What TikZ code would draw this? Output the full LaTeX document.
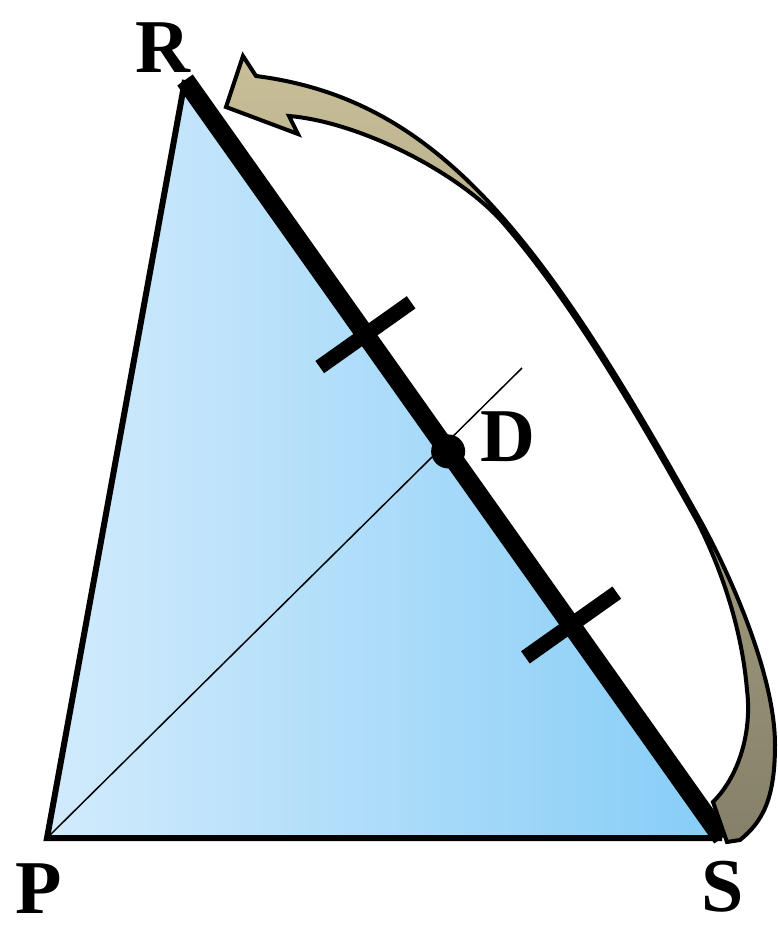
\documentclass[tikz,border=0pt]{standalone}
\usepackage{fontspec}
\setmainfont{Liberation Serif}[BoldFont={Liberation Serif Bold}]
\usetikzlibrary{calc}
\definecolor{triL}{HTML}{D2EBFC}
\definecolor{triR}{HTML}{86CDF7}
\definecolor{arrT}{HTML}{C8BF98}
\definecolor{arrB}{HTML}{858069}
\begin{document}
\begin{tikzpicture}[x=1pt,y=-1pt,
  lbl/.style={font=\fontsize{76}{76}\selectfont\bfseries, inner sep=0pt, anchor=center},
  side/.style={line width=6pt, line join=miter},
  tick/.style={line width=15pt},
  bigarrow/.style={top color=arrT, bottom color=arrB, draw=black, line width=4pt, line join=miter}]
\useasboundingbox (0,0) rectangle (777,929);
\coordinate (P) at (47,838);
\coordinate (R) at (185,80);
\coordinate (S) at (722,838);
\coordinate (D) at ($(R)!0.49!(S)$);
\coordinate (E) at (522,368);
\coordinate (T1) at ($(R)!0.336!(S)$);
\coordinate (T2) at ($(R)!0.719!(S)$);
% triangle
\shade[left color=triL, right color=triR] (P) -- (R) -- (S) -- cycle;
\draw[side] (S) -- (P) -- (R);
\draw[line width=1.5pt] (P) -- (E);
\draw[line width=19pt] (R) -- (S);
% ticks
\draw[tick] ($(T1)!56pt!90:(S)$) -- ($(T1)!56pt!-90:(S)$);
\draw[tick] ($(T2)!56pt!90:(S)$) -- ($(T2)!56pt!-90:(S)$);
\fill (D) circle (17pt);
% curved arrow
\shadedraw[bigarrow]
 (226,107) -- (243,56) -- (256,76)
 .. controls (436,99) and (540,232) .. (700,520)
 .. controls (730,574) and (775,675) .. (775,745)
 .. controls (775,800) and (762,822) .. (740,840)
 -- (727,842) -- (713,802)
 .. controls (740,775) and (752,730) .. (747,690)
 .. controls (742,630) and (722,570) .. (697.5,522)
 .. controls (625.5,392.4) and (564.8,294.2) .. (503.5,223.3)
 .. controls (460,173) and (360,122) .. (289,116)
 -- (298,134) -- cycle;
% labels
\node[lbl] (lR) at (163,48) {R};
\node[lbl] (lD) at (508,437) {D};
\node[lbl] (lP) at (39,889) {P};
\node[lbl] (lS) at (723,887) {S};
\end{tikzpicture}
\end{document}
